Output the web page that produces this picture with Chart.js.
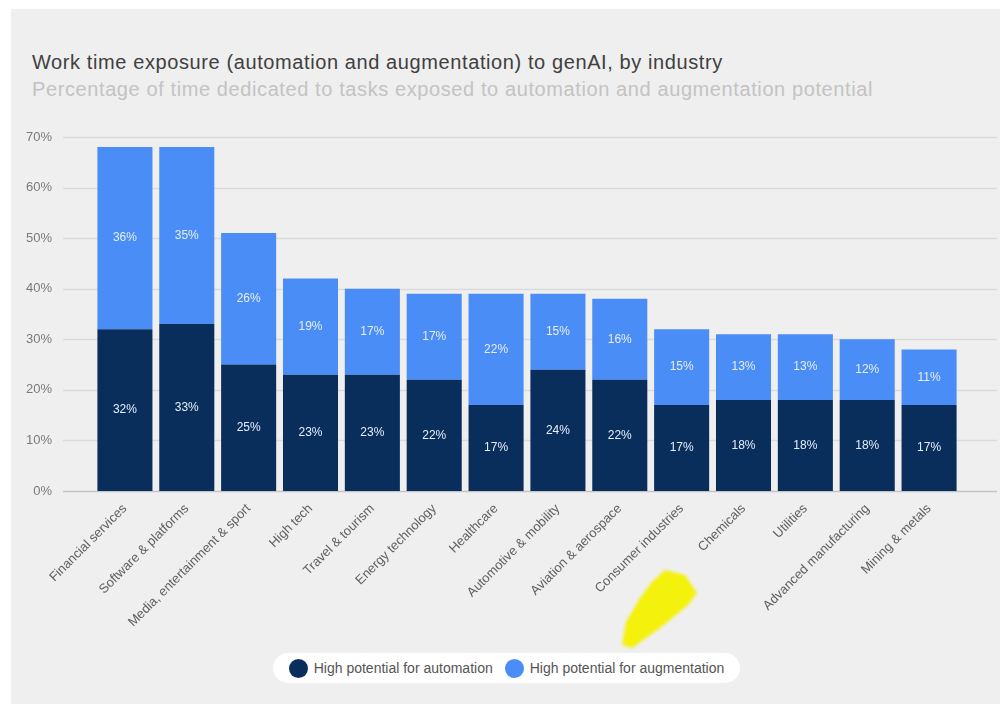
<!DOCTYPE html>
<html>
<head>
<meta charset="utf-8">
<script src="https://cdn.jsdelivr.net/npm/chart.js@4/dist/chart.umd.min.js"></script>
<style>
  body { margin:0; background:#fff; font-family:'Liberation Sans', Arial, sans-serif; }
  #panel { position:absolute; left:11px; top:9px; width:989px; height:695px; background:#efefef; }
  #wrap { position:absolute; left:0; top:0; width:1000px; height:704px; }
  .title { position:absolute; left:32px; top:51px; font-size:20px; color:#404040; white-space:nowrap; letter-spacing:0.6px; }
  .sub { position:absolute; left:32px; top:78px; font-size:20px; color:#c3c3c3; white-space:nowrap; letter-spacing:0.6px; }
  #legend { position:absolute; left:273px; top:653px; width:467px; height:30px; background:#fff; border-radius:15px;
            display:flex; align-items:center; justify-content:center; gap:12px; font-size:14px; color:#555; }
  #legend span.dot { display:inline-block; width:19px; height:19px; border-radius:50%; margin-right:6px; vertical-align:middle; }
  #legend div { display:flex; align-items:center; }
  #arrow { position:absolute; left:0; top:0; pointer-events:none; }
</style>
</head>
<body>
<div id="panel"></div>
<div class="title">Work time exposure (automation and augmentation) to genAI, by industry</div>
<div class="sub">Percentage of time dedicated to tasks exposed to automation and augmentation potential</div>
<div id="wrap"><canvas id="chart" width="1000" height="704"></canvas></div>
<svg id="arrow" width="1000" height="704">
  <defs><filter id="soft"><feGaussianBlur stdDeviation="1.5"/></filter></defs>
  <polygon points="665,570 685,575 697,593 688,605 660,628 632,648 622,645 626,622 640,598 652,582" fill="#f4f10c" filter="url(#soft)"/>
</svg>
<div id="legend"></div>

<script>
const industries = ['Financial services','Software & platforms','Media, entertainment & sport','High tech','Travel & tourism',
  'Energy technology','Healthcare','Automotive & mobility','Aviation & aerospace','Consumer industries','Chemicals',
  'Utilities','Advanced manufacturing','Mining & metals'];
const automation   = [32, 33, 25, 23, 23, 22, 17, 24, 22, 17, 18, 18, 18, 17];
const augmentation = [36, 35, 26, 19, 17, 17, 22, 15, 16, 15, 13, 13, 12, 11];
const yTicks = [0, 10, 20, 30, 40, 50, 60, 70];

const DARK = '#0a2e5c';
const LIGHT = '#4a8df6';
const FONT = '"Liberation Sans", Arial, sans-serif';

// horizontal gridlines run wider than the bar area
const wideGrid = {
  id: 'wideGrid',
  beforeDatasetsDraw(chart) {
    const { ctx, scales: { y } } = chart;
    ctx.save();
    yTicks.forEach(v => {
      const py = Math.round(y.getPixelForValue(v)) + 0.5;
      ctx.strokeStyle = v === 0 ? '#c4c4c4' : '#dadada';
      ctx.lineWidth = 1.5;
      ctx.beginPath();
      ctx.moveTo(63, py);
      ctx.lineTo(997, py);
      ctx.stroke();
    });
    ctx.restore();
  }
};

// percentage labels inside each segment
const segLabels = {
  id: 'segLabels',
  afterDatasetsDraw(chart) {
    const { ctx } = chart;
    ctx.save();
    ctx.font = '12px ' + FONT;
    ctx.fillStyle = '#e6eefb';
    ctx.textAlign = 'center';
    ctx.textBaseline = 'middle';
    chart.data.datasets.forEach((ds, i) => {
      chart.getDatasetMeta(i).data.forEach((bar, j) => {
        ctx.fillText(ds.data[j] + '%', bar.x, (bar.y + bar.base) / 2);
      });
    });
    ctx.restore();
  }
};

const chart = new Chart(document.getElementById('chart'), {
  type: 'bar',
  data: {
    labels: industries,
    datasets: [
      { label: 'High potential for automation', data: automation, backgroundColor: DARK },
      { label: 'High potential for augmentation', data: augmentation, backgroundColor: LIGHT }
    ]
  },
  options: {
    responsive: false,
    animation: false,
    barPercentage: 0.89,
    categoryPercentage: 1,
    layout: { padding: { top: 137, right: 40, left: 0, bottom: 0 } },
    plugins: { legend: { display: false }, tooltip: { enabled: false } },
    scales: {
      x: {
        stacked: true,
        grid: { display: false },
        border: { display: false },
        ticks: { maxRotation: 45, minRotation: 45, padding: 2, color: '#606060',
                 font: { size: 13, family: FONT } },
        afterFit(s) { s.height = 213; }
      },
      y: {
        stacked: true,
        min: 0, max: 70,
        afterBuildTicks(s) { s.ticks = yTicks.map(v => ({ value: v })); },
        grid: { display: false },
        border: { display: false },
        ticks: { padding: 34, color: '#7a7a7a', callback: v => v + '%',
                 font: { size: 13, family: FONT } },
        afterFit(s) { s.width = 94; }
      }
    }
  },
  plugins: [wideGrid, segLabels]
});

// legend built from the datasets
const leg = document.getElementById('legend');
chart.data.datasets.forEach(ds => {
  const d = document.createElement('div');
  d.innerHTML = '<span class="dot" style="background:' + ds.backgroundColor + '"></span>' + ds.label;
  leg.appendChild(d);
});
</script>
</body>
</html>
